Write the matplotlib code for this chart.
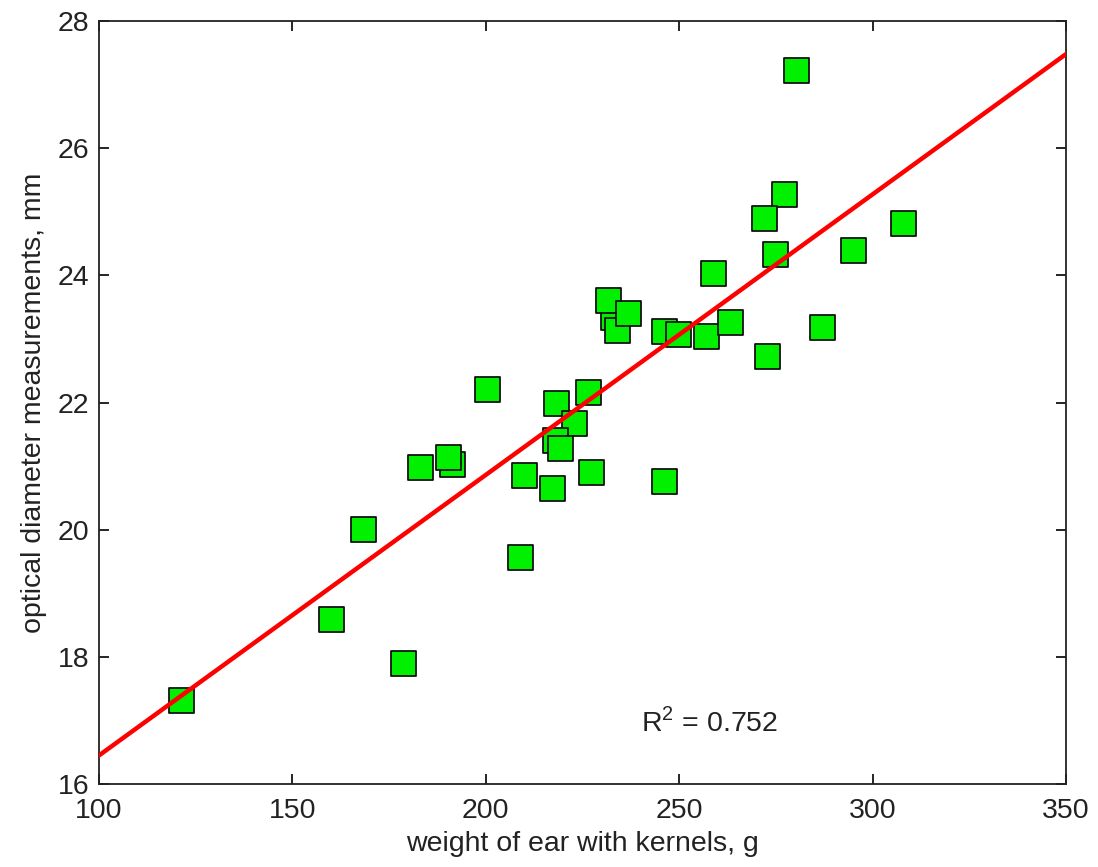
import matplotlib
matplotlib.use("Agg")
import matplotlib.pyplot as plt

# weight of ear with kernels (g) vs optical diameter (mm)
weight = [191.2, 190.3, 121.1, 159.9, 178.7, 168.3, 183.0, 200.2, 208.8, 209.9,
          217.2, 218.1, 226.3, 222.9, 218.0, 219.1, 227.2, 246.0,
          233.0, 231.6, 233.9, 236.8, 246.0, 249.8, 257.0, 263.2, 286.8, 272.8,
          258.8, 280.1, 277.1, 271.8, 274.8, 294.9, 307.9]
diameter = [21.04, 21.15, 17.32, 18.60, 17.90, 20.01, 20.98, 22.21, 19.57, 20.86,
            20.65, 22.00, 22.17, 21.67, 21.41, 21.29, 20.91, 20.77,
            23.35, 23.61, 23.14, 23.40, 23.13, 23.08, 23.05, 23.26, 23.19, 22.73,
            24.04, 27.23, 25.28, 24.90, 24.34, 24.40, 24.83]

# regression line end points
fit_x = [100, 350]
fit_y = [16.45, 27.48]
r2_label = "R$^2$ = 0.752"

plt.rcParams['font.family'] = ['Liberation Sans', 'DejaVu Sans']
plt.rcParams['mathtext.fontset'] = 'custom'
plt.rcParams['mathtext.rm'] = 'Liberation Sans'

fig = plt.figure(figsize=(10.98, 8.67), dpi=100)
ax = fig.add_axes([0.0902, 0.0957, 0.8807, 0.8801])

ax.scatter(weight, diameter, marker='s', s=18 ** 2, c='#00f000',
           edgecolors='#111111', linewidths=1.3, zorder=2)
ax.plot(fit_x, fit_y, color='#ff0000', linewidth=3.2, zorder=3)

ax.text(240, 16.97, r2_label, fontsize=20.5, va='center', ha='left',
        color='#222222')

ax.set_xlim(100, 350)
ax.set_ylim(16, 28)
ax.set_xticks([100, 150, 200, 250, 300, 350])
ax.set_yticks([16, 18, 20, 22, 24, 26, 28])
ax.tick_params(direction='in', length=7, width=1.2, labelsize=20.5,
               top=True, right=True, labelcolor='#222222')
ax.tick_params(axis='x', pad=10)
ax.tick_params(axis='y', pad=7)
for sp in ax.spines.values():
    sp.set_linewidth(1.3)
    sp.set_color('#222222')

ax.set_xlabel("weight of ear with kernels, g", fontsize=20.5, labelpad=5,
              color='#222222')
ax.set_ylabel("optical diameter measurements, mm", fontsize=20.5, labelpad=8,
              color='#222222')

fig.savefig("out.png", dpi=100)
